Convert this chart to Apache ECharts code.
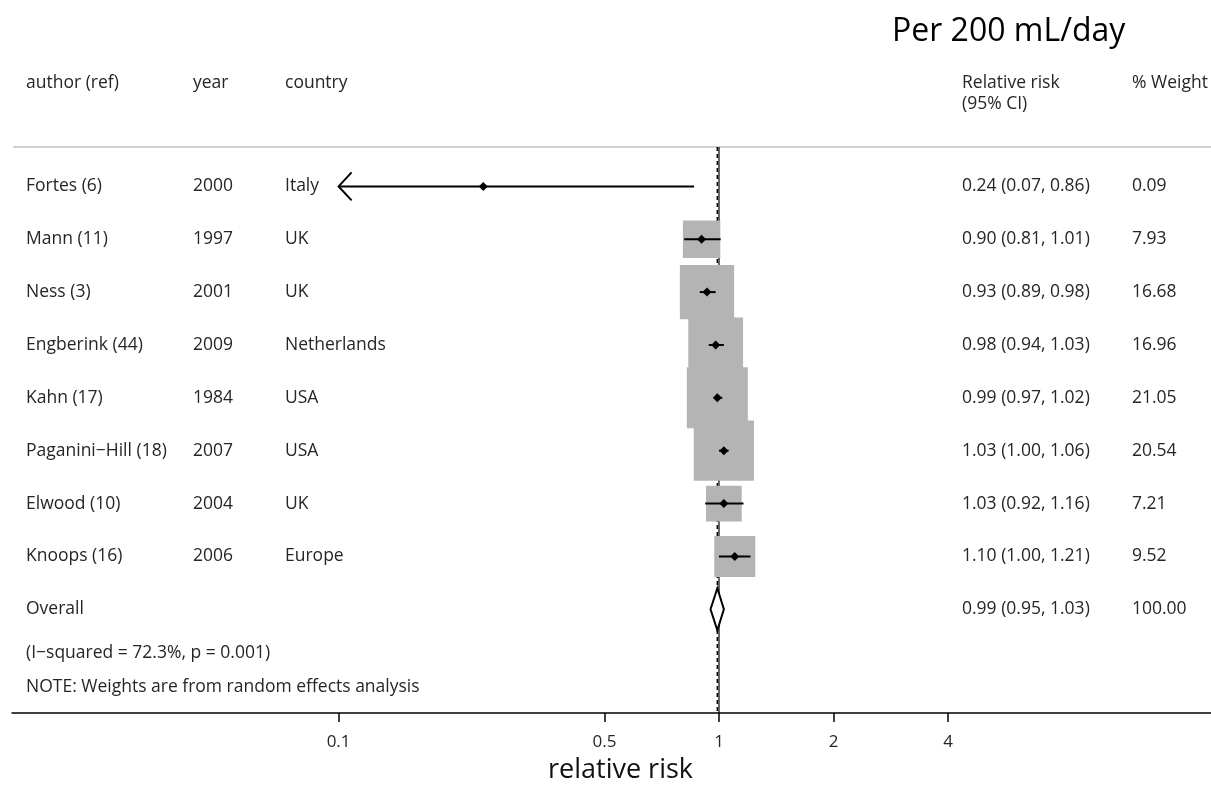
<!DOCTYPE html>
<html>
<head>
<meta charset="utf-8">
<script src="https://cdn.jsdelivr.net/npm/echarts@6/dist/echarts.min.js"></script>
<style>
html,body{margin:0;padding:0;background:#fff;}
#chart{width:1211px;height:789px;}
</style>
</head>
<body>
<div id="chart"></div>
<script>
// ---------------- data ----------------
const authors   = ['Fortes (6)', 'Mann (11)', 'Ness (3)', 'Engberink (44)', 'Kahn (17)', 'Paganini\u2212Hill (18)', 'Elwood (10)', 'Knoops (16)'];
const years     = ['2000', '1997', '2001', '2009', '1984', '2007', '2004', '2006'];
const countries = ['Italy', 'UK', 'UK', 'Netherlands', 'USA', 'USA', 'UK', 'Europe'];
const relRisk   = [0.24, 0.90, 0.93, 0.98, 0.99, 1.03, 1.03, 1.10];
const ciLower   = [0.07, 0.81, 0.89, 0.94, 0.97, 1.00, 0.92, 1.00];
const ciUpper   = [0.86, 1.01, 0.98, 1.03, 1.02, 1.06, 1.16, 1.21];
const weights   = [0.09, 7.93, 16.68, 16.96, 21.05, 20.54, 7.21, 9.52];

const overallLabel  = 'Overall';
const overallRR     = 0.99;
const overallLower  = 0.95;
const overallUpper  = 1.03;
const overallWeight = 100.00;

const heterogeneityText = '(I\u2212squared = 72.3%, p = 0.001)';
const noteText = 'NOTE: Weights are from random effects analysis';

const tickValues = [0.1, 0.5, 1, 2, 4];
const headerLeft = ['author (ref)', 'year', 'country'];
const headerRR = ['Relative risk', '(95% CI)'];
const headerWeight = '% Weight';
const titleText = 'Per 200 mL/day';
const axisTitle = 'relative risk';

// ---------------- layout / style constants ----------------
const AXIS_RANGE = [0.01385, 19.65];   // visible range of the log axis
const CLIP_MIN = 0.1;                  // CIs below this are drawn as arrows
const ROW_PX = 53.6;                   // pixel height of a study row
const FIRST_ROW_Y = 189;
const GRID_BOTTOM = 66;
const H = 789;
const Y_MIN = -FIRST_ROW_Y / ROW_PX;
const Y_MAX = (H - GRID_BOTTOM - FIRST_ROW_Y) / ROW_PX;
const HEADER_LINE_ROW = (149 - FIRST_ROW_Y) / ROW_PX;
const OVERALL_ROW = authors.length;
const HET_ROW = OVERALL_ROW + 0.82;
const NOTE_ROW = OVERALL_ROW + 1.48;
const COL_X = [26, 193, 285, 962, 1132];
const FONT = '"Open Sans", "Noto Sans", sans-serif';
const TXT = '#262626';
const FS = 17.5;
const BOX_SCALE = 13.3;

const lg = v => Math.log10(v);
const f2 = v => v.toFixed(2);

// study rows: [row, rr, lo, hi, weight]
const studyData = relRisk.map((r, i) => [i, r, ciLower[i], ciUpper[i], weights[i]]);

// table text rows
const tableRows = authors.map((a, i) => ({
  row: i,
  cols: [a, years[i], countries[i], f2(relRisk[i]) + ' (' + f2(ciLower[i]) + ', ' + f2(ciUpper[i]) + ')', f2(weights[i])]
}));
tableRows.push({row: OVERALL_ROW, cols: [overallLabel, '', '', f2(overallRR) + ' (' + f2(overallLower) + ', ' + f2(overallUpper) + ')', f2(overallWeight)]});
tableRows.push({row: HET_ROW, cols: [heterogeneityText, '', '', '', '']});
tableRows.push({row: NOTE_ROW, cols: [noteText, '', '', '', '']});

function textEl(x, y, t, extra) {
  return {type: 'text', x: x, y: y, style: Object.assign({text: t, fill: TXT, fontSize: FS, fontFamily: FONT, align: 'left', verticalAlign: 'middle'}, extra || {})};
}

function renderTable(params, api) {
  const r = tableRows[params.dataIndex];
  const y = api.coord([0, r.row])[1];
  const children = [];
  r.cols.forEach((c, k) => { if (c) children.push(textEl(COL_X[k], y, c)); });
  return {type: 'group', children: children};
}

function renderStudy(params, api) {
  const row = api.value(0), est = api.value(1), lo = api.value(2), hi = api.value(3), w = api.value(4);
  const c = api.coord([lg(est), row]);
  const pLo = api.coord([lg(Math.max(lo, CLIP_MIN)), row]);
  const pHi = api.coord([lg(hi), row]);
  const side = BOX_SCALE * Math.sqrt(w);
  const children = [
    {type: 'rect', shape: {x: c[0] - side / 2, y: c[1] - side / 2, width: side, height: side},
     style: {fill: '#b4b4b4'}},
    {type: 'line', shape: {x1: pLo[0], y1: pLo[1], x2: pHi[0], y2: pHi[1]},
     style: {stroke: '#000', lineWidth: 2}}
  ];
  if (lo < CLIP_MIN) {
    children.push({type: 'polyline', shape: {points: [[pLo[0] + 13, pLo[1] - 14], [pLo[0], pLo[1]], [pLo[0] + 13, pLo[1] + 14]]},
      style: {stroke: '#000', lineWidth: 2, fill: null}});
  }
  children.push({type: 'polygon', shape: {points: [[c[0] - 4.5, c[1]], [c[0], c[1] - 4.5], [c[0] + 4.5, c[1]], [c[0], c[1] + 4.5]]},
    style: {fill: '#000'}});
  return {type: 'group', children: children};
}

function renderOverall(params, api) {
  const pL = api.coord([lg(api.value(2)), api.value(0)]);
  const pC = api.coord([lg(api.value(1)), api.value(0)]);
  const pR = api.coord([lg(api.value(3)), api.value(0)]);
  const hh = 21;
  return {type: 'polygon', shape: {points: [[pL[0], pL[1]], [pC[0], pC[1] - hh], [pR[0], pR[1]], [pC[0], pC[1] + hh]]},
    style: {fill: '#fff', stroke: '#000', lineWidth: 2}};
}

function headerText(x, y, t) {
  return {type: 'text', x: x, y: y, style: {text: t, fontSize: FS, fontFamily: FONT, fill: TXT, verticalAlign: 'middle'}};
}

const chart = echarts.init(document.getElementById('chart'), null, {renderer: 'canvas'});
chart.setOption({
  animation: false,
  backgroundColor: '#fff',
  grid: {left: 12, right: 0, top: 0, bottom: GRID_BOTTOM, containLabel: false},
  xAxis: {
    type: 'value',
    min: lg(AXIS_RANGE[0]),
    max: lg(AXIS_RANGE[1]),
    name: axisTitle,
    nameLocation: 'middle',
    nameGap: 44,
    nameTextStyle: {fontSize: 27, fontFamily: FONT, color: '#111', padding: [0, 0, 0, 18]},
    axisLine: {show: true, onZero: false, lineStyle: {color: '#000', width: 1.5}},
    axisTick: {show: true, length: 9, inside: false, customValues: tickValues.map(lg), lineStyle: {color: '#000', width: 1.5}},
    axisLabel: {show: true, margin: 21, customValues: tickValues.map(lg), fontSize: 17, fontFamily: FONT, color: TXT,
      formatter: v => String(+Math.pow(10, v).toPrecision(3))},
    splitLine: {show: false}
  },
  yAxis: {type: 'value', inverse: true, min: Y_MIN, max: Y_MAX, show: false},
  graphic: [
    {type: 'text', left: 892, top: 16, style: {text: titleText, fontSize: 32, fontFamily: FONT, fill: '#000'}},
    headerText(COL_X[0], 83, headerLeft[0]),
    headerText(COL_X[1], 83, headerLeft[1]),
    headerText(COL_X[2], 83, headerLeft[2]),
    headerText(COL_X[3], 83, headerRR[0]),
    headerText(COL_X[3], 104, headerRR[1]),
    headerText(COL_X[4], 83, headerWeight)
  ],
  series: [
    { // header separator
      type: 'line', silent: true, symbol: 'none', z: 1,
      data: [[lg(AXIS_RANGE[0]) + 0.003, HEADER_LINE_ROW], [lg(AXIS_RANGE[1]), HEADER_LINE_ROW]],
      lineStyle: {color: '#d2d2d2', width: 2}
    },
    { // null line at 1
      type: 'line', silent: true, symbol: 'none', z: 1,
      data: [[lg(1), HEADER_LINE_ROW], [lg(1), Y_MAX]],
      lineStyle: {color: '#000', width: 1.2}
    },
    { // overall effect dashed line
      type: 'line', silent: true, symbol: 'none', z: 1,
      data: [[lg(overallRR), HEADER_LINE_ROW], [lg(overallRR), Y_MAX]],
      lineStyle: {color: '#000', width: 1.5, type: [4, 3]}
    },
    {type: 'custom', z: 3, renderItem: renderStudy, data: studyData},
    {type: 'custom', z: 4, renderItem: renderOverall, data: [[OVERALL_ROW, overallRR, overallLower, overallUpper]]},
    {type: 'custom', z: 5, renderItem: renderTable, data: tableRows.map(r => [r.row])}
  ]
});
</script>
</body>
</html>
